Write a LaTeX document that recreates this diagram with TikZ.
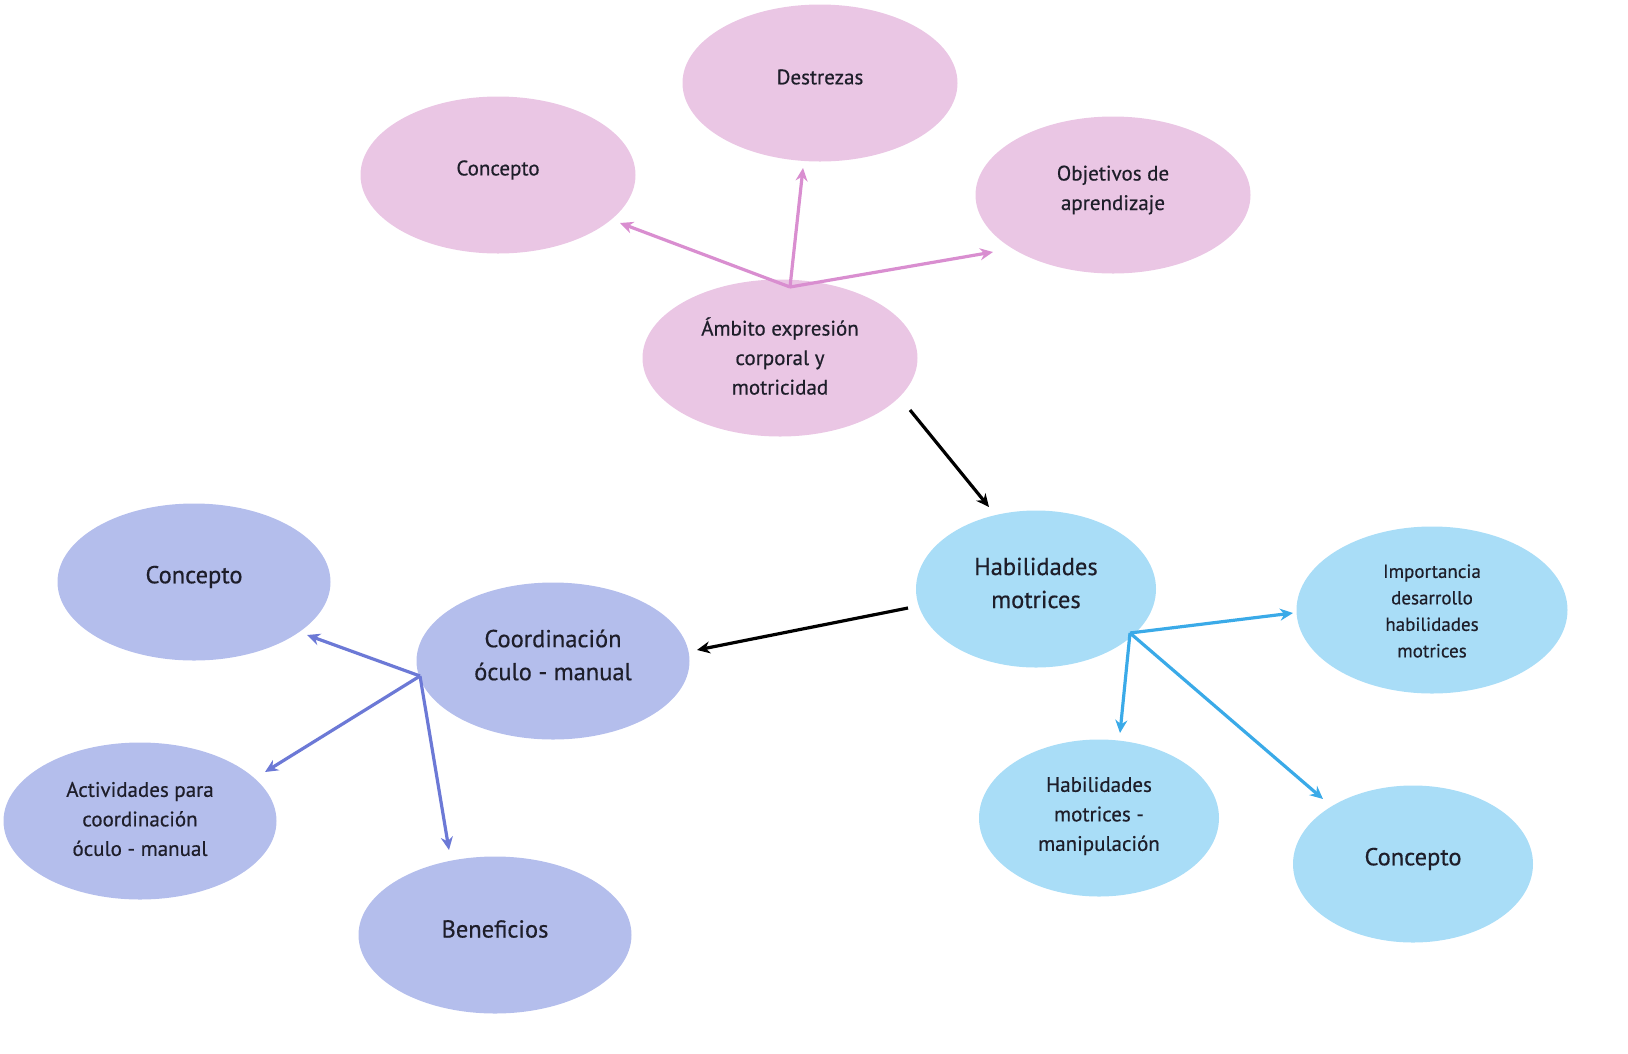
\documentclass[tikz,border=0pt]{standalone}
\usepackage{fontspec}
\setmainfont{PT Sans}[FakeBold=0.5]
\usetikzlibrary{arrows.meta,shapes.geometric}
\definecolor{pinkfill}{HTML}{EAC6E4}
\definecolor{pinkline}{HTML}{D98ED0}
\definecolor{bluefill}{HTML}{A9DDF7}
\definecolor{blueline}{HTML}{3AAAE8}
\definecolor{purfill}{HTML}{B4BEEC}
\definecolor{purline}{HTML}{6C79D6}
\definecolor{txt}{HTML}{1E1E2A}
\begin{document}
\begin{tikzpicture}[x=1pt,y=-1pt,
  bub/.style={ellipse, inner sep=0pt},
  pinkb/.style={bub, fill=pinkfill, minimum width=275pt, minimum height=157pt},
  blueb/.style={bub, fill=bluefill, minimum width=240pt, minimum height=157pt},
  purb/.style={bub, fill=purfill, minimum width=273pt, minimum height=157pt},
  lab/.style={align=center, text=txt, inner sep=0pt},
  pinkt/.style={lab, font=\fontsize{21}{29.5}\selectfont},
  big/.style={lab, font=\fontsize{24.5}{33}\selectfont},
  mid/.style={lab, font=\fontsize{21}{29.5}\selectfont},
  small/.style={lab, font=\fontsize{19}{26.5}\selectfont},
  conn/.style={line width=3.2pt, -{Stealth[length=13pt,width=12pt]}},
]
\useasboundingbox (0,0) rectangle (1628,1053);
% pink group
\node[pinkb, label={[pinkt, yshift=6pt]center:Destrezas}] (destrezas) at (820,83) {};
\node[pinkb, label={[pinkt, yshift=5pt]center:Concepto}] (concP) at (498,175) {};
\node[pinkb, label={[pinkt, yshift=5pt]center:Objetivos de\\aprendizaje}] (objetivos) at (1113,195) {};
\node[pinkb, label={[pinkt, yshift=2pt]center:Ámbito expresión\\corporal y\\motricidad}] (ambito) at (780,358) {};
% blue group
\node[blueb, label={[big, yshift=6pt]center:Habilidades\\motrices}] (habil) at (1036,589) {};
\node[blueb, minimum width=271pt, minimum height=167pt, label={[small, yshift=-1pt]center:Importancia\\desarrollo\\habilidades\\motrices}] (importancia) at (1432,610) {};
\node[blueb, label={[mid, yshift=2pt]center:Habilidades\\motrices -\\manipulación}] (manip) at (1099,818) {};
\node[blueb, label={[big, yshift=5pt]center:Concepto}] (concB) at (1413,864) {};
% purple group
\node[purb, label={[big, yshift=6pt]center:Coordinación\\óculo - manual}] (coord) at (553,661) {};
\node[purb, label={[big, yshift=5pt]center:Concepto}] (concU) at (194,582) {};
\node[purb, label={[mid, yshift=2pt]center:Actividades para\\coordinación\\óculo - manual}] (activ) at (140,821) {};
\node[purb, label={[big, yshift=6pt]center:Beneficios}] (benef) at (495,935) {};
% hubs and tips
\coordinate (hubP) at (790,287);
\coordinate (tConcP) at (620,223);
\coordinate (tDest) at (803,168);
\coordinate (tObj) at (993,252);
\coordinate (hubB) at (1130,633);
\coordinate (tImp) at (1293,613);
\coordinate (tMan) at (1120,733);
\coordinate (tConcB) at (1323,799);
\coordinate (hubU) at (420,676);
\coordinate (tConcU) at (307,635);
\coordinate (tAct) at (265,772);
\coordinate (tBen) at (449,850);
\coordinate (sA) at (910,410);
\coordinate (tA) at (989,507);
\coordinate (sH) at (908,608);
\coordinate (tH) at (697,650);
% connectors
\draw[conn, pinkline] (hubP) -- (tConcP);
\draw[conn, pinkline] (hubP) -- (tDest);
\draw[conn, pinkline] (hubP) -- (tObj);
\draw[conn, blueline] (hubB) -- (tImp);
\draw[conn, blueline] (hubB) -- (tMan);
\draw[conn, blueline] (hubB) -- (tConcB);
\draw[conn, purline] (hubU) -- (tConcU);
\draw[conn, purline] (hubU) -- (tAct);
\draw[conn, purline] (hubU) -- (tBen);
\draw[conn, black, line width=3.2pt] (sA) -- (tA);
\draw[conn, black, line width=3.2pt] (sH) -- (tH);
\end{tikzpicture}
\end{document}
